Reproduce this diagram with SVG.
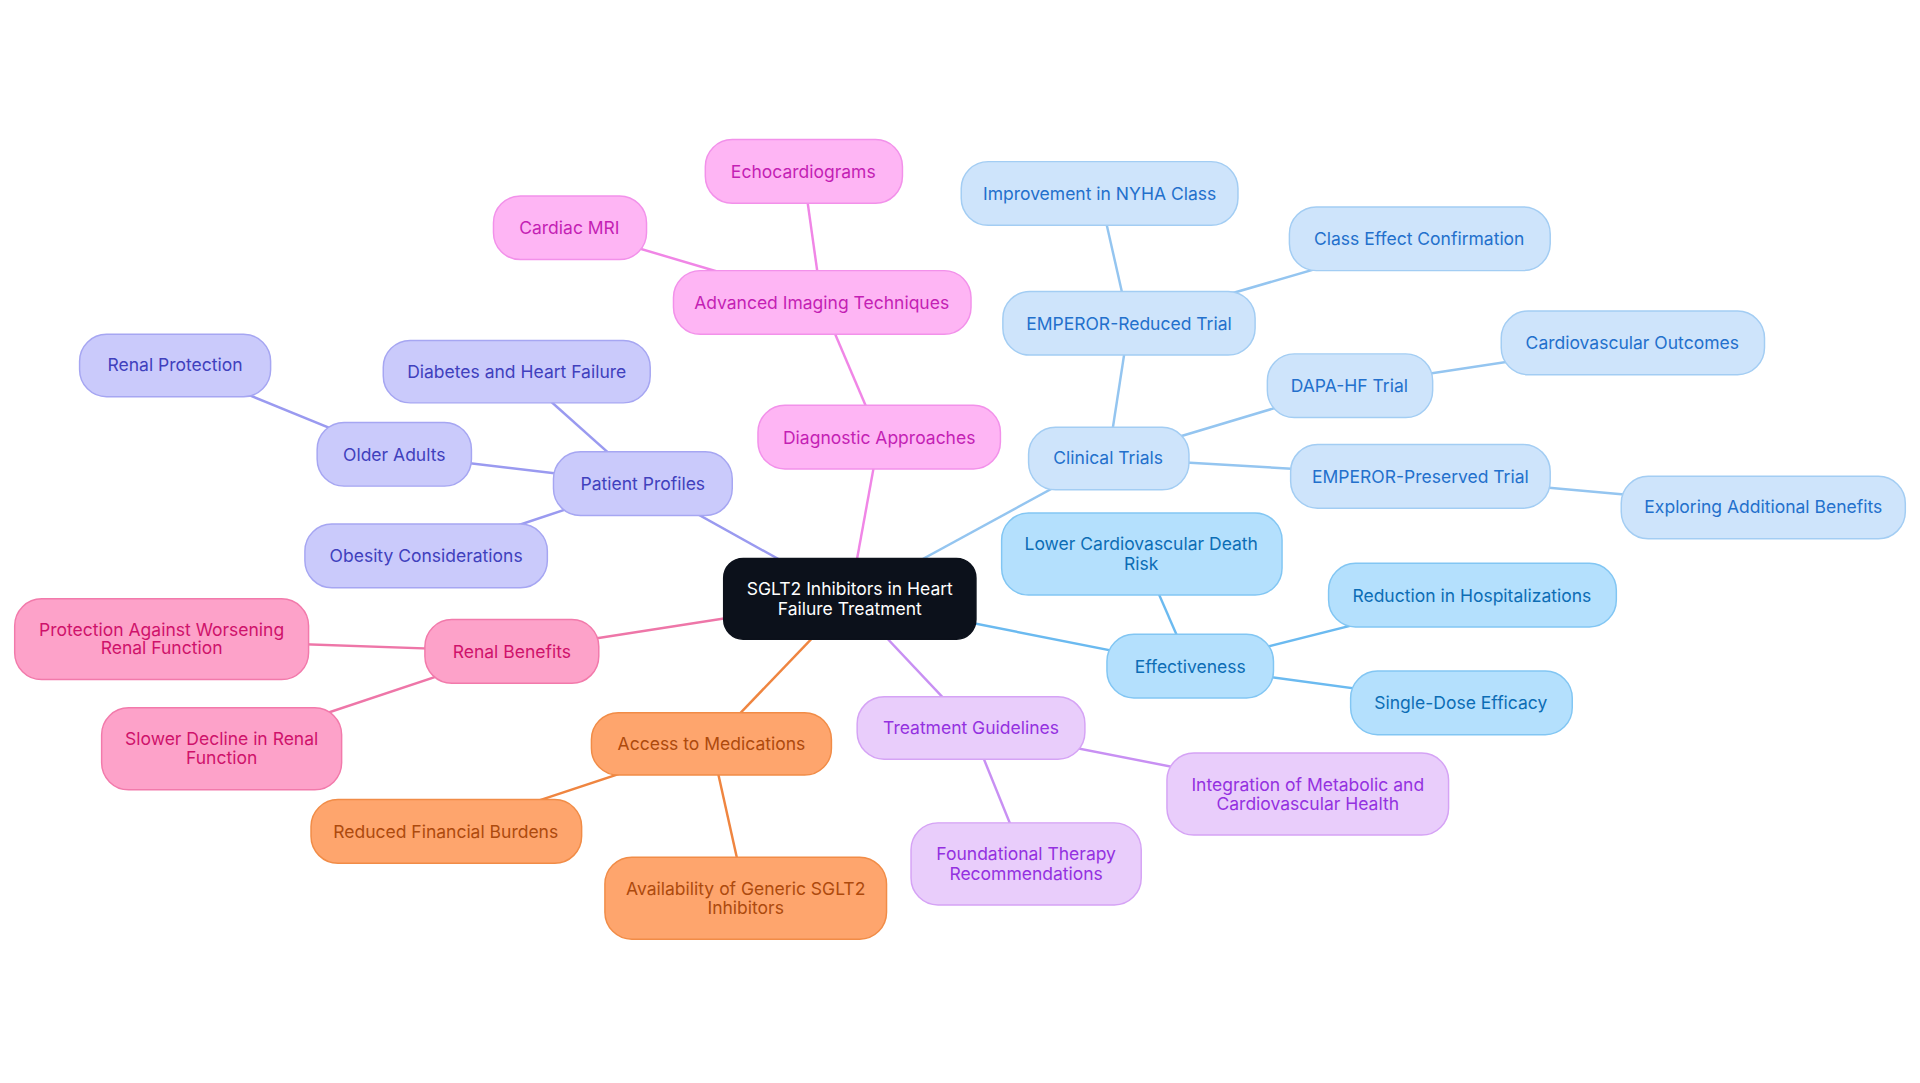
<svg xmlns="http://www.w3.org/2000/svg" width="1920" height="1083" viewBox="0 0 1920 1083">
<style>
text{font-family:Inter,"Noto Sans",sans-serif;font-size:14.3px;text-anchor:middle;dominant-baseline:central}
rect{stroke-width:1.2}
.e line{stroke-width:2}
.pk rect{fill:#feb5f4;stroke:#f291ea}.pk text{fill:#c41fb4}
.bl rect{fill:#cee4fb;stroke:#a3cdf3}.bl text{fill:#2370cc}
.sk rect{fill:#b4e0fd;stroke:#82c6f3}.sk text{fill:#0c6db5}
.pu rect{fill:#e9cdfb;stroke:#d5a3f5}.pu text{fill:#9431e0}
.or rect{fill:#fea56d;stroke:#f18c47}.or text{fill:#ad4a0d}
.ro rect{fill:#fda2c9;stroke:#f27aab}.ro text{fill:#cf126b}
.in rect{fill:#cacafb;stroke:#a6a6f2}.in text{fill:#4040bd}
</style>
<rect width="1920" height="1083" fill="#fff"/>
<g transform="scale(1.2245)">
<g class="e">
<g stroke="#f086e6"><line x1="694" y1="489" x2="718" y2="357"/><line x1="718" y1="357" x2="671" y2="247"/><line x1="671" y1="247" x2="656" y2="140"/><line x1="671" y1="247" x2="465" y2="186"/></g>
<g stroke="#94c5f0"><line x1="694" y1="489" x2="905" y2="374"/><line x1="905" y1="374" x2="922" y2="264"/><line x1="922" y1="264" x2="898" y2="158"/><line x1="922" y1="264" x2="1159" y2="195"/><line x1="905" y1="374" x2="1102" y2="315"/><line x1="1102" y1="315" x2="1333" y2="280"/><line x1="905" y1="374" x2="1160" y2="389"/><line x1="1160" y1="389" x2="1440" y2="414"/></g>
<g stroke="#6bbaf0"><line x1="694" y1="489" x2="972" y2="544"/><line x1="972" y1="544" x2="932" y2="452"/><line x1="972" y1="544" x2="1202" y2="486"/><line x1="972" y1="544" x2="1193" y2="574"/></g>
<g stroke="#c890f3"><line x1="694" y1="489" x2="793" y2="594"/><line x1="793" y1="594" x2="1068" y2="648"/><line x1="793" y1="594" x2="838" y2="705"/></g>
<g stroke="#ef8540"><line x1="694" y1="489" x2="581" y2="607"/><line x1="581" y1="607" x2="364" y2="679"/><line x1="581" y1="607" x2="609" y2="733"/></g>
<g stroke="#ee76a8"><line x1="694" y1="489" x2="418" y2="532"/><line x1="418" y1="532" x2="132" y2="522"/><line x1="418" y1="532" x2="181" y2="611"/></g>
<g stroke="#9a9af0"><line x1="694" y1="489" x2="525" y2="395"/><line x1="525" y1="395" x2="422" y2="303"/><line x1="525" y1="395" x2="322" y2="371"/><line x1="322" y1="371" x2="143" y2="298"/><line x1="525" y1="395" x2="348" y2="454"/></g>
</g>
<g id="root"><rect x="591" y="456" width="206" height="66" rx="16" fill="#0c111b" stroke="#0c111b"/><text x="694" y="481" fill="#fff">SGLT2 Inhibitors in Heart</text><text x="694" y="497" fill="#fff">Failure Treatment</text></g>
<g id="diag" class="pk"><rect x="619" y="331" width="198" height="52" rx="22"/><text x="718" y="357">Diagnostic Approaches</text></g>
<g id="adv" class="pk"><rect x="550" y="221" width="243" height="52" rx="22"/><text x="671" y="247">Advanced Imaging Techniques</text></g>
<g id="echo" class="pk"><rect x="576" y="114" width="161" height="52" rx="22"/><text x="656" y="140">Echocardiograms</text></g>
<g id="mri" class="pk"><rect x="403" y="160" width="125" height="52" rx="22"/><text x="465" y="186">Cardiac MRI</text></g>
<g id="ct" class="bl"><rect x="840" y="349" width="131" height="51" rx="22"/><text x="905" y="374">Clinical Trials</text></g>
<g id="er" class="bl"><rect x="819" y="238" width="206" height="52" rx="22"/><text x="922" y="264">EMPEROR-Reduced Trial</text></g>
<g id="nyha" class="bl"><rect x="785" y="132" width="226" height="52" rx="22"/><text x="898" y="158">Improvement in NYHA Class</text></g>
<g id="cec" class="bl"><rect x="1053" y="169" width="213" height="52" rx="22"/><text x="1159" y="195">Class Effect Confirmation</text></g>
<g id="dapa" class="bl"><rect x="1035" y="289" width="135" height="52" rx="22"/><text x="1102" y="315">DAPA-HF Trial</text></g>
<g id="cvo" class="bl"><rect x="1226" y="254" width="215" height="52" rx="22"/><text x="1333" y="280">Cardiovascular Outcomes</text></g>
<g id="ep" class="bl"><rect x="1054" y="363" width="212" height="52" rx="22"/><text x="1160" y="389">EMPEROR-Preserved Trial</text></g>
<g id="expl" class="bl"><rect x="1324" y="389" width="232" height="51" rx="22"/><text x="1440" y="414">Exploring Additional Benefits</text></g>
<g id="eff" class="sk"><rect x="904" y="518" width="136" height="52" rx="22"/><text x="972" y="544">Effectiveness</text></g>
<g id="lcv" class="sk"><rect x="818" y="419" width="229" height="67" rx="22"/><text x="932" y="444">Lower Cardiovascular Death</text><text x="932" y="460">Risk</text></g>
<g id="hosp" class="sk"><rect x="1085" y="460" width="235" height="52" rx="22"/><text x="1202" y="486">Reduction in Hospitalizations</text></g>
<g id="sde" class="sk"><rect x="1103" y="548" width="181" height="52" rx="22"/><text x="1193" y="574">Single-Dose Efficacy</text></g>
<g id="tg" class="pu"><rect x="700" y="569" width="186" height="51" rx="22"/><text x="793" y="594">Treatment Guidelines</text></g>
<g id="integ" class="pu"><rect x="953" y="615" width="230" height="67" rx="22"/><text x="1068" y="641">Integration of Metabolic and</text><text x="1068" y="656">Cardiovascular Health</text></g>
<g id="found" class="pu"><rect x="744" y="672" width="188" height="67" rx="22"/><text x="838" y="697">Foundational Therapy</text><text x="838" y="713">Recommendations</text></g>
<g id="acc" class="or"><rect x="483" y="582" width="196" height="51" rx="22"/><text x="581" y="607">Access to Medications</text></g>
<g id="rfb" class="or"><rect x="254" y="653" width="221" height="52" rx="22"/><text x="364" y="679">Reduced Financial Burdens</text></g>
<g id="gen" class="or"><rect x="494" y="700" width="230" height="67" rx="22"/><text x="609" y="726">Availability of Generic SGLT2</text><text x="609" y="741">Inhibitors</text></g>
<g id="rb" class="ro"><rect x="347" y="506" width="142" height="52" rx="22"/><text x="418" y="532">Renal Benefits</text></g>
<g id="prot" class="ro"><rect x="12" y="489" width="240" height="66" rx="22"/><text x="132" y="514">Protection Against Worsening</text><text x="132" y="529">Renal Function</text></g>
<g id="slow" class="ro"><rect x="83" y="578" width="196" height="67" rx="22"/><text x="181" y="603">Slower Decline in Renal</text><text x="181" y="619">Function</text></g>
<g id="pp" class="in"><rect x="452" y="369" width="146" height="52" rx="22"/><text x="525" y="395">Patient Profiles</text></g>
<g id="dhf" class="in"><rect x="313" y="278" width="218" height="51" rx="22"/><text x="422" y="303">Diabetes and Heart Failure</text></g>
<g id="old" class="in"><rect x="259" y="345" width="126" height="52" rx="22"/><text x="322" y="371">Older Adults</text></g>
<g id="rp" class="in"><rect x="65" y="273" width="156" height="51" rx="22"/><text x="143" y="298">Renal Protection</text></g>
<g id="obe" class="in"><rect x="249" y="428" width="198" height="52" rx="22"/><text x="348" y="454">Obesity Considerations</text></g>
</g>
</svg>
